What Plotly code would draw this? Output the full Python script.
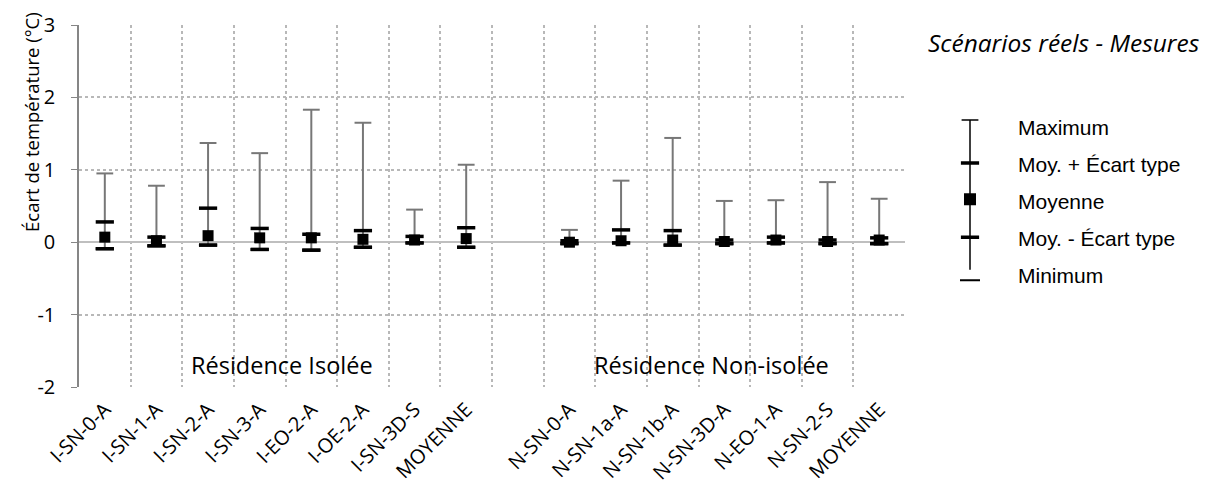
import plotly.graph_objects as go

# categories (blank slot separates the two residences)
categories = ["I-SN-0-A", "I-SN-1-A", "I-SN-2-A", "I-SN-3-A", "I-EO-2-A", "I-OE-2-A",
              "I-SN-3D-S", "MOYENNE", "", "N-SN-0-A", "N-SN-1a-A", "N-SN-1b-A",
              "N-SN-3D-A", "N-EO-1-A", "N-SN-2-S", "MOYENNE"]

maximum   = [0.95, 0.78, 1.37, 1.23, 1.83, 1.65, 0.45, 1.07, None, 0.17, 0.85, 1.44, 0.57, 0.58, 0.83, 0.60]
moy_plus  = [0.28, 0.07, 0.47, 0.19, 0.11, 0.16, 0.08, 0.20, None, 0.02, 0.17, 0.16, 0.03, 0.07, 0.03, 0.06]
moyenne   = [0.07, 0.02, 0.09, 0.06, 0.06, 0.04, 0.03, 0.05, None, 0.00, 0.02, 0.03, 0.01, 0.03, 0.01, 0.03]
moy_minus = [-0.09, -0.05, -0.04, -0.10, -0.11, -0.07, -0.01, -0.07, None, -0.02, -0.01, -0.04, -0.02, -0.01, -0.02, -0.02]
minimum   = [-0.09, -0.05, -0.04, -0.10, -0.11, -0.07, -0.01, -0.07, None, -0.02, -0.01, -0.04, -0.02, -0.01, -0.02, -0.02]

y_ticks = [-2, -1, 0, 1, 2, 3]
y_ticktext = ["-2", "-1", "0", "1", "2", "3"]

legend_labels = ["Maximum", "Moy. + Écart type", "Moyenne", "Moy. - Écart type", "Minimum"]
legend_rows = [5, 4, 3, 2, 1]

xpos = list(range(len(categories)))
span = [None if a is None else a - b for a, b in zip(maximum, minimum)]

GRAY = "#777777"
FONT = "Open Sans"
W, H = 1208, 491
# page body has an 8px margin, so the plot area is pulled back by 8px
ml, mr, mt, mb = 71, 0, 17, 112
area_w = W - ml - mr
area_h = H - mt - mb
main_right = 826 / area_w


def px(sx):
    return (sx - 79) / area_w


def py(sy):
    return (387 - sy) / area_h


fig = go.Figure()

# high-low line with max cap
fig.add_trace(go.Scatter(
    x=xpos, y=maximum, mode="markers",
    marker=dict(symbol="line-ew", size=12, line=dict(width=2, color=GRAY)),
    error_y=dict(type="data", symmetric=False, array=[0] * len(xpos), arrayminus=span,
                 color=GRAY, thickness=2, width=0),
    showlegend=False, hoverinfo="skip"))
for vals, lw in [(moy_plus, 3.5), (moy_minus, 3.5), (minimum, 3)]:
    fig.add_trace(go.Scatter(x=xpos, y=vals, mode="markers",
                             marker=dict(symbol="line-ew", size=13, line=dict(width=lw, color="black")),
                             showlegend=False))
fig.add_trace(go.Scatter(x=xpos, y=moyenne, mode="markers",
                         marker=dict(symbol="square", size=11, color="black"),
                         showlegend=False))

# hand-made legend glyph on its own small axis
glyph_y = [5.19, 4.03, 3.05, 2.02, 0.86]
fig.add_trace(go.Scatter(x=[0, 0], y=[glyph_y[0], 1.14], mode="lines",
                         line=dict(color="black", width=1.5), xaxis="x2", yaxis="y2",
                         showlegend=False, hoverinfo="skip"))
fig.add_trace(go.Scatter(x=[0], y=[glyph_y[0]], mode="markers", xaxis="x2", yaxis="y2",
                         marker=dict(symbol="line-ew", size=12, line=dict(width=1.5, color="black")),
                         showlegend=False))
fig.add_trace(go.Scatter(x=[0], y=[glyph_y[4]], mode="markers", xaxis="x2", yaxis="y2",
                         marker=dict(symbol="line-ew", size=15, line=dict(width=2, color="black")),
                         showlegend=False))
fig.add_trace(go.Scatter(x=[0, 0], y=[glyph_y[1], glyph_y[3]], mode="markers", xaxis="x2", yaxis="y2",
                         marker=dict(symbol="line-ew", size=13, line=dict(width=3.5, color="black")),
                         showlegend=False))
fig.add_trace(go.Scatter(x=[0], y=[glyph_y[2]], mode="markers", xaxis="x2", yaxis="y2",
                         marker=dict(symbol="square", size=12, color="black"), showlegend=False))

annotations = []
for lab, r in zip(legend_labels, legend_rows):
    annotations.append(dict(x=px(1016), y=r, xref="paper", yref="y2", text=lab, showarrow=False,
                            xanchor="left", yanchor="middle",
                            font=dict(family="Liberation Sans, Arial", size=21, color="black")))
annotations.append(dict(x=px(1064), y=py(43), xref="paper", yref="paper",
                        xanchor="center", yanchor="middle",
                        text="<i>Scénarios réels - Mesures</i>", showarrow=False,
                        font=dict(family=FONT, size=24.5, color="black")))
annotations.append(dict(x=px(31), y=py(122), xref="paper", yref="paper", textangle=-90,
                        xanchor="center", yanchor="middle",
                        text="Écart de température (°C)", showarrow=False,
                        font=dict(family=FONT, size=18.5, color="black")))
annotations.append(dict(x=3.44, y=-1.70, xref="x", yref="y", text="Résidence Isolée", showarrow=False,
                        xanchor="center", yanchor="middle",
                        font=dict(family=FONT, size=23.5, color="black")))
annotations.append(dict(x=11.76, y=-1.70, xref="x", yref="y", text="Résidence Non-isolée", showarrow=False,
                        xanchor="center", yanchor="middle",
                        font=dict(family=FONT, size=23.5, color="black")))

fig.update_layout(
    width=W, height=H,
    margin=dict(l=ml, r=mr, t=mt, b=mb, autoexpand=False),
    paper_bgcolor="white", plot_bgcolor="white",
    font=dict(family=FONT, size=15, color="black"),
    annotations=annotations,
    xaxis=dict(domain=[0, main_right], range=[-0.5, len(categories) - 0.5],
               tickmode="array", tickvals=xpos, ticktext=categories, tickangle=-45,
               showgrid=False, zeroline=False, showline=False, ticks="",
               ticklabelstandoff=6,
               tickfont=dict(family=FONT, size=20, color="black"),
               minor=dict(tickmode="array", tickvals=[p + 0.5 for p in xpos],
                          showgrid=True, gridcolor="#b8b8b8", griddash="dot", gridwidth=1.5)),
    yaxis=dict(range=[-2, 3], tickmode="array", tickvals=y_ticks, ticktext=y_ticktext,
               showgrid=True, gridcolor="#b8b8b8", griddash="dot", gridwidth=1.5,
               zeroline=True, zerolinecolor="#bfbfbf", zerolinewidth=2,
               showline=True, linecolor="#868686", linewidth=1.5,
               ticks="outside", ticklen=6, tickcolor="#868686",
               ticklabelstandoff=12,
               tickfont=dict(family=FONT, size=20, color="black")),
    xaxis2=dict(domain=[px(960), px(980)], range=[-1, 1],
                visible=False, anchor="y2"),
    yaxis2=dict(domain=[py(293.5), py(108.5)], range=[0.5, 5.5],
                visible=False, anchor="x2"),
)

fig.write_html("out.html")
